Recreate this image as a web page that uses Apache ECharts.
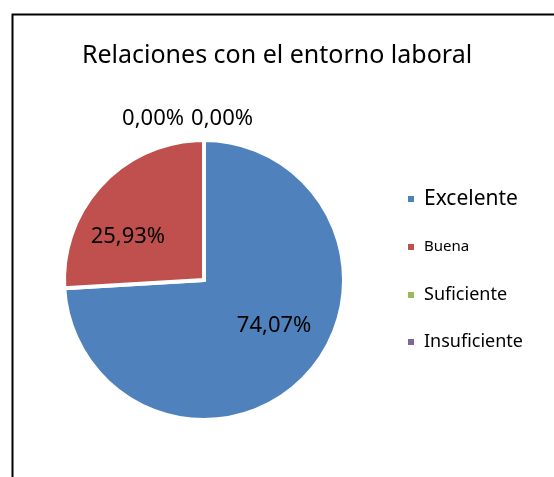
<!DOCTYPE html>
<html><head><meta charset="utf-8">
<script src="https://cdn.jsdelivr.net/npm/echarts@6/dist/echarts.min.js"></script>
<style>html,body{margin:0;padding:0;background:#fff}#c{width:554px;height:477px}</style>
</head><body><div id="c"></div>
<script>
const titleText = 'Relaciones con el entorno laboral';
const categories = ['Excelente', 'Buena', 'Suficiente', 'Insuficiente'];
const values = [74.07, 25.93, 0, 0];
const colors = ['#4F81BD', '#C0504D', '#9BBB59', '#8064A2'];
const legendFontSizes = [21, 15, 18, 18];
const legendCenters = [199, 247, 295, 342];
const labelShift = [[17, -4], [-23, 7], [-15, -21], [54, -21]];

const FONT = '"Noto Sans", "Open Sans", sans-serif';
const chart = echarts.init(document.getElementById('c'));

const legends = categories.map((name, i) => ({
  data: [name],
  left: 406,
  top: legendCenters[i] - 12,
  orient: 'vertical',
  padding: 0,
  itemWidth: 8,
  itemHeight: 8,
  icon: 'rect',
  selectedMode: false,
  textStyle: {fontFamily: FONT, fontSize: legendFontSizes[i], color: '#000', lineHeight: 24, padding: [0, 0, 0, 4]}
}));

chart.setOption({
  animation: false,
  backgroundColor: '#fff',
  title: {
    text: titleText, left: 'center', top: 43, padding: 0,
    textStyle: {fontFamily: FONT, fontSize: 25, fontWeight: 'normal', color: '#000'}
  },
  graphic: [{
    type: 'rect', left: 10, top: 12,
    shape: {width: 700, height: 700},
    style: {fill: 'none', stroke: '#000', lineWidth: 2},
    silent: true
  }],
  legend: legends,
  series: [{
    type: 'pie',
    center: [204, 280],
    radius: 140,
    startAngle: 90,
    clockwise: true,
    avoidLabelOverlap: false,
    itemStyle: {borderColor: '#fff', borderWidth: 4},
    label: {
      show: true,
      fontFamily: FONT, fontSize: 22, color: '#000',
      formatter: p => p.value.toFixed(2).replace('.', ',') + '%'
    },
    labelLine: {show: false, length: 0, length2: 0},
    labelLayout: p => ({dx: labelShift[p.dataIndex][0], dy: labelShift[p.dataIndex][1]}),
    emphasis: {disabled: true},
    data: categories.map((name, i) => ({
      name, value: values[i],
      itemStyle: {color: colors[i]},
      label: {position: values[i] > 0 ? 'inside' : 'outside'}
    }))
  }]
});
</script></body></html>
